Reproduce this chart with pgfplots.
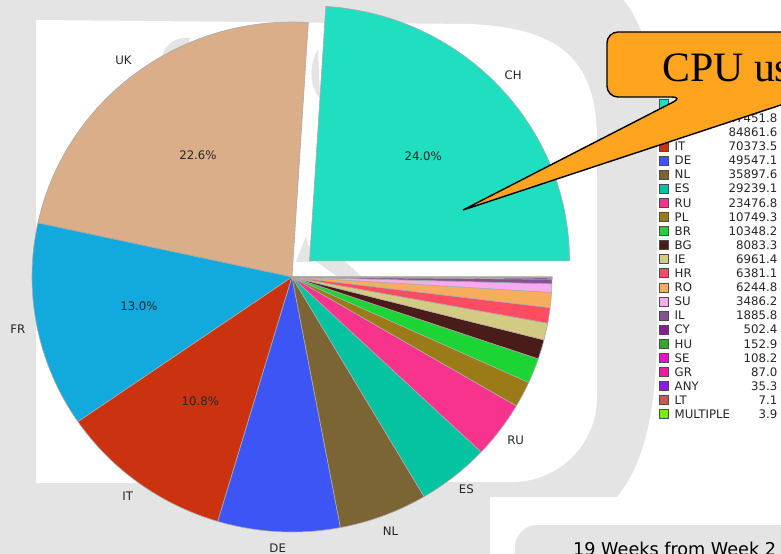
\documentclass[border=0pt]{standalone}
\usepackage{pgfplots}
\pgfplotsset{compat=1.18}
\usepackage{pgfplotstable}
\usepackage{fontspec}
\setmainfont{DejaVu Sans}
\newfontfamily\seriffont{Liberation Serif}
\pgfkeys{/pgf/number format/assume math mode=true}

\definecolor{bgg}{HTML}{E4E4E4}
\definecolor{txt}{HTML}{262626}
\definecolor{cOr}{HTML}{FFA41F}
\definecolor{cCH}{HTML}{20DFC0}
\definecolor{cUK}{HTML}{DBAE8A}
\definecolor{cFR}{HTML}{12AADC}
\definecolor{cIT}{HTML}{CB3310}
\definecolor{cDE}{HTML}{3D55F5}
\definecolor{cNL}{HTML}{7B6535}
\definecolor{cES}{HTML}{05C2A0}
\definecolor{cRU}{HTML}{F8338E}
\definecolor{cPL}{HTML}{9B7B17}
\definecolor{cBR}{HTML}{1CD535}
\definecolor{cBG}{HTML}{491C19}
\definecolor{cIE}{HTML}{D3CB83}
\definecolor{cHR}{HTML}{FE4C63}
\definecolor{cRO}{HTML}{F7AD5E}
\definecolor{cSU}{HTML}{F6AAF0}
\definecolor{cIL}{HTML}{85538D}
\definecolor{cCY}{HTML}{8C1C95}
\definecolor{cHU}{HTML}{33A82E}
\definecolor{cSE}{HTML}{E612C8}
\definecolor{cGR}{HTML}{EE1BA0}
\definecolor{cANY}{HTML}{8C1EE0}
\definecolor{cLT}{HTML}{C55C58}
\definecolor{cMULTIPLE}{HTML}{78EE12}

\pgfplotstableread{
name value col
CH 156600.0 cCH
UK 147451.8 cUK
FR 84861.6 cFR
IT 70373.5 cIT
DE 49547.1 cDE
NL 35897.6 cNL
ES 29239.1 cES
RU 23476.8 cRU
PL 10749.3 cPL
BR 10348.2 cBR
BG 8083.3 cBG
IE 6961.4 cIE
HR 6381.1 cHR
RO 6244.8 cRO
SU 3486.2 cSU
IL 1885.8 cIL
CY 502.4 cCY
HU 152.9 cHU
SE 108.2 cSE
GR 87.0 cGR
ANY 35.3 cANY
LT 7.1 cLT
MULTIPLE 3.9 cMULTIPLE
}\piedata

\newcommand\smallfont{\fontsize{11.8}{14}\selectfont}

\begin{document}
\begin{tikzpicture}
\path[use as bounding box] (0,0) rectangle (781bp,554bp);
\begin{axis}[at={(0,0)}, anchor=south west, scale only axis,
  width=781bp, height=554bp, xmin=0, xmax=781, ymin=0, ymax=554,
  y dir=reverse, hide axis, clip mode=global]
% ---- watermark-like background ----
\fill[bgg] (axis cs:-5,-5) rectangle (axis cs:790,560);
\fill[white] (axis cs:36,483) -- (axis cs:36,20) -- (axis cs:470,24)
  .. controls (axis cs:560,28) and (axis cs:597,60) .. (axis cs:597,140)
  -- (axis cs:597,397) .. controls (axis cs:597,444) and (axis cs:559,482) .. (axis cs:512,482) -- cycle;
\fill[white] (axis cs:620,-5) .. controls (axis cs:645,25) and (axis cs:657,70) .. (axis cs:657,120)
  -- (axis cs:657,330) .. controls (axis cs:657,420) and (axis cs:640,470) .. (axis cs:617,497)
  -- (axis cs:490,497) -- (axis cs:490,560) -- (axis cs:790,560) -- (axis cs:790,-5) -- cycle;
\fill[bgg] (axis cs:515,560) -- (axis cs:515,547) .. controls (axis cs:515,535) and (axis cs:525,525) .. (axis cs:537,525)
  -- (axis cs:790,525) -- (axis cs:790,560) -- cycle;
\fill[bgg] (axis cs:640,90) -- (axis cs:700,90) -- (axis cs:640,130) -- cycle;
% faint watermark pieces peeking around the pie
\fill[bgg] (axis cs:300,250) -- (axis cs:322,240) -- (axis cs:362,277) -- (axis cs:338,277) -- cycle;
\fill[bgg] (axis cs:296,262) -- (axis cs:306,236) -- (axis cs:312,262) -- cycle;
\fill[bgg] (axis cs:318,50) .. controls (axis cs:309,62) and (axis cs:309,88) .. (axis cs:320,98) -- cycle;
\fill[bgg] (axis cs:162,56) .. controls (axis cs:166,42) and (axis cs:178,37) .. (axis cs:190,38) -- (axis cs:185,52) -- cycle;
% ---- pie + legend ----
\pgfplotsextra{
  \pgfplotstablegetrowsof{\piedata}
  \pgfmathtruncatemacro\N{\pgfplotsretval-1}
  \xdef\tot{0}
  \foreach \i in {0,...,\N}{%
    \pgfplotstablegetelem{\i}{value}\of\piedata
    \xdef\tot{\fpeval{\tot+\pgfplotsretval}}%
  }
  \xdef\cum{0}
  \foreach \i in {0,...,\N}{%
    \pgfplotstablegetelem{\i}{value}\of\piedata \let\v\pgfplotsretval
    \pgfplotstablegetelem{\i}{col}\of\piedata \let\c\pgfplotsretval
    \pgfplotstablegetelem{\i}{name}\of\piedata \let\nm\pgfplotsretval
    \edef\a{\fpeval{\cum}}%
    \edef\b{\fpeval{\cum+360*\v/\tot}}%
    \edef\m{\fpeval{(\a+\b)/2}}%
    \edef\ex{\fpeval{\i==0 ? 24 : 0}}%
    \edef\cx{\fpeval{292+\ex*cosd(\m)}}%
    \edef\cy{\fpeval{277-\ex*sind(\m)*255/260}}%
    \fill[\c, draw=black!33, line width=0.6bp] (axis cs:\cx,\cy) -- ++(\a:260bp and 255bp)
      arc[start angle=\a, end angle=\b, x radius=260bp, y radius=255bp] -- cycle;
    \edef\share{\fpeval{\v/\tot}}%
    \ifnum\fpeval{\share>0.03}=1
      \edef\lx{\fpeval{\cx+1.075*260*cosd(\m)}}%
      \edef\lyy{\fpeval{\cy-1.065*255*sind(\m)}}%
      \node[font=\smallfont, text=txt, inner sep=0pt] at (axis cs:\lx,\lyy) {\nm};
    \fi
    \ifnum\fpeval{\share>0.1}=1
      \edef\px{\fpeval{\cx+0.6*260*cosd(\m)}}%
      \edef\py{\fpeval{\cy-0.6*255*sind(\m)}}%
      \edef\p{\fpeval{100*\share}}%
      \node[font=\smallfont, text=txt, inner sep=0pt] at (axis cs:\px,\py) {\pgfmathprintnumber[fixed,precision=1,fixed zerofill]{\p}\%};
    \fi
    % legend row
    \edef\ly{\fpeval{104+14.1*\i}}%
    \edef\lya{\fpeval{\ly-4.5}}%
    \edef\lyb{\fpeval{\ly+4.5}}%
    \edef\lyt{\fpeval{\ly+4.3}}%
    \fill[\c, draw=black!70, line width=0.6bp] (axis cs:659.5,\lya) rectangle (axis cs:668.5,\lyb);
    \node[font=\smallfont, text=txt, inner sep=0pt, anchor=base west] at (axis cs:674.5,\lyt) {\nm};
    \node[font=\smallfont, text=txt, inner sep=0pt, anchor=base east] at (axis cs:777.5,\lyt)
      {\pgfmathprintnumber[fixed,precision=1,fixed zerofill,1000 sep={}]{\v}};
    \xdef\cum{\b}%
  }
}
% ---- callout ----
\filldraw[fill=cOr, draw=black, line width=1.4bp]
  (axis cs:805,97) -- (axis cs:920,97) -- (axis cs:920,32) [rounded corners=11bp]
  -- (axis cs:607,32) -- (axis cs:607,97) -- (axis cs:683,97) [sharp corners]
  -- (axis cs:463,210) -- cycle;
\node[anchor=base west, inner sep=0pt, font=\seriffont\fontsize{42}{42}\selectfont, text=black]
  at (axis cs:662,82) {CPU usage};
% ---- bottom text ----
\node[anchor=base west, inner sep=0pt, font=\fontsize{17.7}{18}\selectfont, text=black]
  at (axis cs:573,555) {19 Weeks from Week 2};
\end{axis}
\end{tikzpicture}
\end{document}
